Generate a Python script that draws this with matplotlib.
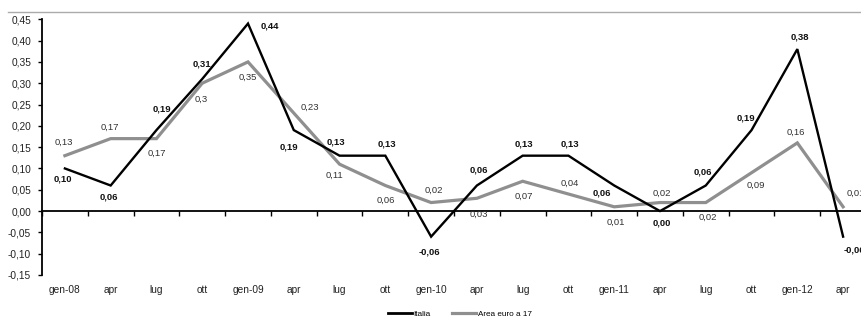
import matplotlib
matplotlib.use("Agg")
import matplotlib.pyplot as plt
from matplotlib.ticker import FuncFormatter
from matplotlib.lines import Line2D
import numpy as np

plt.rcParams["font.family"] = ["Liberation Sans", "DejaVu Sans"]

# Quarterly periods
periods = ["gen-08", "apr", "lug", "ott", "gen-09", "apr", "lug", "ott",
           "gen-10", "apr", "lug", "ott", "gen-11", "apr", "lug", "ott",
           "gen-12", "apr"]

# Series values
italia = [0.10, 0.06, 0.19, 0.31, 0.44, 0.19, 0.13, 0.13, -0.06, 0.06,
          0.13, 0.13, 0.06, 0.00, 0.06, 0.19, 0.38, -0.06]
area_euro = [0.13, 0.17, 0.17, 0.30, 0.35, 0.23, 0.11, 0.06, 0.02, 0.03,
             0.07, 0.04, 0.01, 0.02, 0.02, 0.09, 0.16, 0.01]

y_ticks = [-0.15, -0.10, -0.05, 0.00, 0.05, 0.10, 0.15, 0.20, 0.25,
           0.30, 0.35, 0.40, 0.45]

series_names = ["Italia", "Area euro a 17"]

# Label placement relative to each point (pixels: dx, dy upwards)
italia_label_offsets = [(-2, -10.6), (-2, -11), (5.5, 21), (-0.6, 15),
                        (22, -2), (-4.5, -16.7), (-3.6, 14), (1.4, 11.6),
                        (-1.7, -15), (1.5, 15.4), (1.7, 11.6), (1, 11.6),
                        (-12.3, -7.3), (1.8, -12.3), (-3, 13.7), (-5.4, 11.7),
                        (2.3, 12.4), (11, -13.4)]
euro_label_offsets = [(-0.7, 13), (-1, 11), (0, -14.7), (-0.6, -15.8),
                      (0, -15.4), (16, 5.7), (-5.6, -11.6), (0.7, -14.6),
                      (2.3, 11.8), (1.5, -16.1), (1.4, -14.8), (1.6, 10.7),
                      (2, -15), (1.8, 9.2), (1.7, -14.8), (4.3, -13),
                      (-2, 10.5), (13, 13.4)]

W, H = 862, 320
fig = plt.figure(figsize=(W / 100, H / 100), dpi=100)
ax = fig.add_axes([42 / W, 45 / H, 824 / W, 255.7 / H])

x = np.arange(len(periods))
black = "#000000"
grey = "#8f8f8f"

ax.plot(x, italia, color=black, lw=1.7, solid_joinstyle="miter", zorder=4)
ax.plot(x, area_euro, color=grey, lw=2.3, solid_joinstyle="miter", zorder=3)


def it_fmt(v, decimals=2):
    s = f"{v:.{decimals}f}".replace(".", ",")
    return s


def euro_fmt(v):
    s = f"{v:.2f}".rstrip("0")
    if s.endswith("."):
        s += "0"
    return s.replace(".", ",")


for xi, v, (dx, dy) in zip(x, italia, italia_label_offsets):
    ax.annotate(it_fmt(v), (xi, v), xytext=(dx, dy), textcoords="offset pixels",
                ha="center", va="center", fontsize=6.8, fontweight="bold",
                color="#111111", zorder=6, annotation_clip=False)

for xi, v, (dx, dy) in zip(x, area_euro, euro_label_offsets):
    ax.annotate(euro_fmt(v), (xi, v), xytext=(dx, dy), textcoords="offset pixels",
                ha="center", va="center", fontsize=6.8, color="#333333",
                zorder=6, annotation_clip=False)

ax.set_xlim(-0.5, len(periods) - 0.5)
ax.set_ylim(y_ticks[0], y_ticks[-1])

# Axes styling
for side in ("top", "right"):
    ax.spines[side].set_visible(False)
ax.spines["left"].set_linewidth(1.3)
ax.spines["bottom"].set_linewidth(1.3)
ax.spines["bottom"].set_position(("data", 0))

ax.set_yticks(y_ticks)
ax.yaxis.set_major_formatter(FuncFormatter(lambda v, p: f"{v:.2f}".replace(".", ",")))
ax.tick_params(axis="y", length=3, width=1, pad=4.8, labelsize=7.3, colors="#222222")
ax.tick_params(axis="y", color="black")

ax.set_xticks(np.arange(-0.5, len(periods), 1.0))
ax.set_xticklabels([])
ax.tick_params(axis="x", length=3.5, width=1, direction="out", color="black")

sec = ax.secondary_xaxis("bottom")
sec.set_xticks(x)
sec.set_xticklabels(periods)
sec.tick_params(length=0, pad=7, labelsize=7.3, colors="#222222")
sec.spines["bottom"].set_visible(False)

# Thin frame line across the top
fig.add_artist(Line2D([8 / W, 1.0], [1 - 12 / H, 1 - 12 / H], color="#ababab",
                      lw=1.0, transform=fig.transFigure))

handles = [Line2D([], [], color=black, lw=2.0), Line2D([], [], color=grey, lw=2.3)]
fig.legend(handles, series_names, loc="center", bbox_to_anchor=(460 / W, 1 - 314 / H),
           ncol=2, frameon=False, fontsize=5.9, handlelength=2.9, handletextpad=0.2,
           columnspacing=2.6, borderpad=0)

fig.savefig("out.png", dpi=100)
